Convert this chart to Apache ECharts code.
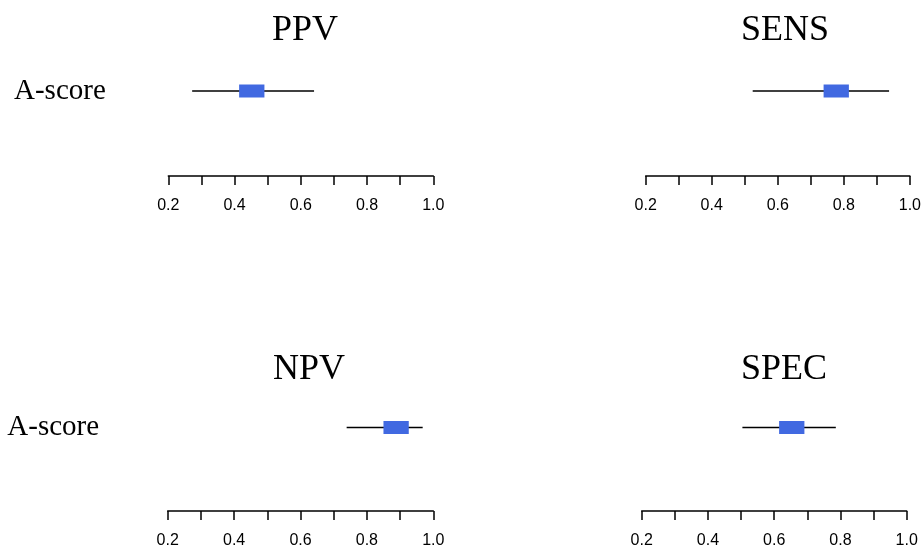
<!DOCTYPE html>
<html>
<head>
<meta charset="utf-8">
<script src="https://cdn.jsdelivr.net/npm/echarts@6/dist/echarts.min.js"></script>
<style>html,body{margin:0;padding:0;background:#fff}#c{width:924px;height:549px}</style>
</head>
<body>
<div id="c"></div>
<script>
// ---- data ----
const panelTitles = ['PPV', 'SENS', 'NPV', 'SPEC'];
const rowLabels = ['A-score'];
const means = [0.452, 0.777, 0.888, 0.653];
const lowers = [0.272, 0.524, 0.739, 0.504];
const uppers = [0.640, 0.937, 0.968, 0.786];
const tickValues = [0.2, 0.3, 0.4, 0.5, 0.6, 0.7, 0.8, 0.9, 1.0];
const tickLabels = ['0.2', '', '0.4', '', '0.6', '', '0.8', '', '1.0'];

// ---- layout ----
const grids = [
  {left: 168.3, top: 6, width: 265, height: 170},
  {left: 645.7, top: 6, width: 266, height: 170},
  {left: 167.7, top: 344, width: 265.6, height: 170},
  {left: 641.7, top: 344, width: 265, height: 170}
];
const titlePos = [[305, 31], [785, 31], [309, 370], [784, 370]];
const labelLeft = [14, null, 7.3, null];
const labelShift = [16, 0, 7, 0];

const serif = '"Liberation Serif", "DejaVu Serif", serif';
const sans = '"Liberation Sans", Arial, sans-serif';

const option = {
  animation: false,
  backgroundColor: '#fff',
  grid: grids.map(g => Object.assign({containLabel: false}, g)),
  xAxis: grids.map((g, i) => ({
    gridIndex: i, type: 'value', min: 0.2, max: 1.0, interval: 0.1,
    axisLine: {show: true, lineStyle: {color: '#000', width: 1.5}},
    axisTick: {show: true, length: 9, inside: false, lineStyle: {color: '#000', width: 1.5}},
    splitLine: {show: false},
    axisLabel: {
      margin: 22, color: '#000', fontFamily: sans, fontSize: 16,
      showMinLabel: true, showMaxLabel: true,
      formatter: v => { const k = tickValues.findIndex(t => Math.abs(t - v) < 1e-6); return k >= 0 ? tickLabels[k] : ''; }
    }
  })),
  yAxis: grids.map((g, i) => ({
    gridIndex: i, type: 'category', data: rowLabels,
    axisLine: {show: false}, axisTick: {show: false}, splitLine: {show: false},
    axisLabel: {
      show: labelLeft[i] !== null, align: 'left',
      margin: labelLeft[i] !== null ? g.left - labelLeft[i] : 8,
      color: '#000', fontFamily: serif, fontSize: 29,
      padding: [0, 0, labelShift[i], 0]
    }
  })),
  graphic: panelTitles.map((t, i) => ({
    type: 'text', x: titlePos[i][0], y: titlePos[i][1],
    style: {text: t, fill: '#000', font: '36px ' + serif, textAlign: 'center', textVerticalAlign: 'middle'}
  })),
  series: panelTitles.map((t, i) => ({
    type: 'custom', xAxisIndex: i, yAxisIndex: i,
    data: [[lowers[i], uppers[i], means[i], 0]],
    encode: {x: [0, 1, 2], y: 3},
    renderItem: (params, api) => {
      const lo = api.coord([api.value(0), 0]);
      const hi = api.coord([api.value(1), 0]);
      const m = api.coord([api.value(2), 0]);
      const bw = 25.3, bh = 13;
      return {
        type: 'group',
        children: [
          {type: 'line', shape: {x1: lo[0], y1: lo[1], x2: hi[0], y2: hi[1]}, style: {stroke: '#000', lineWidth: 1.5}},
          {type: 'rect', shape: {x: m[0] - bw / 2, y: m[1] - bh / 2, width: bw, height: bh}, style: {fill: '#4169E1', stroke: null}}
        ]
      };
    }
  }))
};
const chart = echarts.init(document.getElementById('c'), null, {renderer: 'canvas'});
chart.setOption(option);
</script>
</body>
</html>
